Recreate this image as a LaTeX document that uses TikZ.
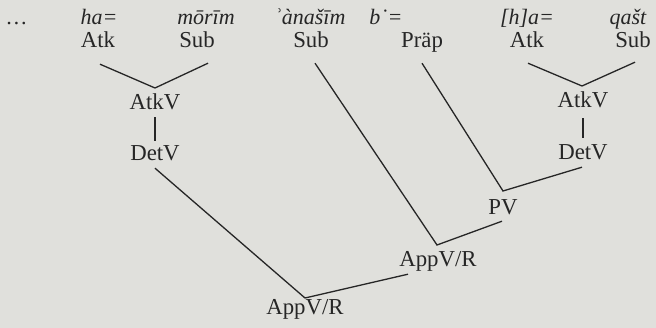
\documentclass[tikz,border=0pt]{standalone}
\usepackage{fontspec}
\setmainfont{Liberation Serif}
\definecolor{bg}{RGB}{224,224,220}
\definecolor{ink}{RGB}{38,38,38}
\begin{document}
\begin{tikzpicture}[x=1pt,y=-1pt,
  lab/.style={anchor=base,inner sep=0pt,text height=14pt,text depth=0pt,text=ink,font=\fontsize{22.8}{22.8}\selectfont},
  word/.style={lab,font=\fontsize{22}{22}\selectfont\itshape},
  edge/.style={draw=ink,line width=1.3pt,line join=miter}]
\fill[bg] (0,0) rectangle (656,328);
\useasboundingbox (0,0) rectangle (656,328);
% words
\node[word] (w0) at (17,25) {…};
\node[word] (w1) at (99,25) {ha=};
\node[word] (w2) at (206,25) {mōrīm};
\node[word] (w3) at (310,25) {ʾànašīm};
\node[word] (w4) at (386,25) {b˙=};
\node[word] (w5) at (527,25) {[h]a=};
\node[word] (w6) at (628,25) {qašt};
% categories
\node[lab] (atk1) at (98,48) {Atk};
\node[lab] (sub1) at (197,48) {Sub};
\node[lab] (sub2) at (311,48) {Sub};
\node[lab] (prap) at (422,48) {Präp};
\node[lab] (atk2) at (527,48) {Atk};
\node[lab] (sub3) at (633,48) {Sub};
\node[lab] (atkv1) at (155,110) {AtkV};
\node[lab] (detv1) at (155,161) {DetV};
\node[lab] (atkv2) at (583,108) {AtkV};
\node[lab] (detv2) at (583,160) {DetV};
\node[lab] (pv) at (503,215) {PV};
\node[lab] (app1) at (438,267) {AppV/R};
\node[lab] (app2) at (305,315) {AppV/R};
% apexes
\coordinate (a1) at (155,88);
\coordinate (a2) at (582,86);
\coordinate (apv) at (503,191);
\coordinate (aapp1) at (437,245);
\coordinate (aapp2) at (305,298);
% connectors
\draw[edge] ([shift={(2,16)}]atk1.south) -- (a1) -- ([shift={(11,15)}]sub1.south);
\draw[edge] ([shift={(0,7)}]atkv1.south) -- ([shift={(0,-6)}]detv1.north);
\draw[edge] ([shift={(1,15)}]atk2.south) -- (a2) -- ([shift={(2,14)}]sub3.south);
\draw[edge] ([shift={(0,10)}]atkv2.south) -- ([shift={(0,-8)}]detv2.north);
\draw[edge] ([shift={(0,15)}]prap.south) -- (apv) -- ([shift={(-1,7)}]detv2.south);
\draw[edge] ([shift={(4,15)}]sub2.south) -- (aapp1) -- ([shift={(-1,6)}]pv.south);
\draw[edge] ([shift={(0,7)}]detv1.south) -- (aapp2) -- ([shift={(-30,7)}]app1.south);
\end{tikzpicture}
\end{document}
